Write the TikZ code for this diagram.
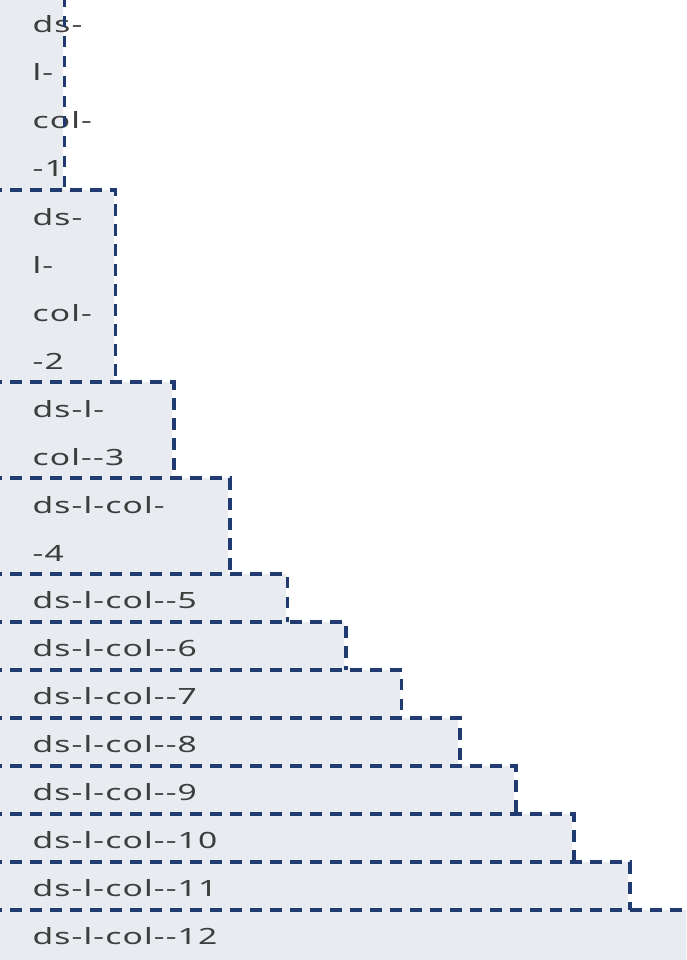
\documentclass[tikz,border=0pt]{standalone}
\usepackage{fontspec}
\setmainfont{Noto Sans}[Ligatures=TeXOff, FakeStretch=1.5, LetterSpace=5]
\definecolor{boxbg}{HTML}{E8EBF0}
\definecolor{edgeblue}{HTML}{1F3B70}
\definecolor{txt}{HTML}{3D3D3D}
\begin{document}
\begin{tikzpicture}[x=1pt,y=-1pt,
  lbl/.style={anchor=base west, inner sep=0pt, text=txt, font=\fontsize{22.4}{48}\selectfont},
  edge/.style={draw=edgeblue, line width=3.5pt, dash pattern=on 11.5pt off 8.5pt}]
\useasboundingbox (0,0) rectangle (686,960);
\clip (0,0) rectangle (686,960);
% fills
\foreach \t/\b/\r in {-10/190/64.3, 190/382/115.7, 382/478/174, 478/574/230, 574/622/287.5, 622/670/346, 670/718/401.5, 718/766/460, 766/814/516, 814/862/574, 862/910/630, 910/980/720}
  \fill[boxbg] (-10,\t) rectangle (\r-1.75,\b);
% labels
\node[lbl] (b1a) at (32.5,33) {ds-};
\node[lbl] (b1b) at (32.5,81) {l-};
\node[lbl] (b1c) at (32.5,129) {col-};
\node[lbl] (b1d) at (32.5,177) {-1};
\node[lbl] (b2a) at (32.5,225) {ds-};
\node[lbl] (b2b) at (32.5,273) {l-};
\node[lbl] (b2c) at (32.5,321) {col-};
\node[lbl] (b2d) at (32.5,369) {-2};
\node[lbl] (b3a) at (32.5,417) {ds-l-};
\node[lbl] (b3b) at (32.5,465) {col--3};
\node[lbl] (b4a) at (32.5,513) {ds-l-col-};
\node[lbl] (b4b) at (32.5,561) {-4};
\node[lbl] (b5) at (32.5,608.5) {ds-l-col--5};
\node[lbl] (b6) at (32.5,656.5) {ds-l-col--6};
\node[lbl] (b7) at (32.5,704.5) {ds-l-col--7};
\node[lbl] (b8) at (32.5,752.5) {ds-l-col--8};
\node[lbl] (b9) at (32.5,800.5) {ds-l-col--9};
\node[lbl] (b10) at (32.5,848.5) {ds-l-col--10};
\node[lbl] (b11) at (32.5,896.5) {ds-l-col--11};
\node[lbl] (b12) at (32.5,944.5) {ds-l-col--12};
% dashed outlines
\foreach \t/\b/\r in {-10/190/64.3, 190/382/115.7, 382/478/174, 478/574/230, 574/622/287.5, 622/670/346, 670/718/401.5, 718/766/460, 766/814/516, 814/862/574, 862/910/630, 910/980/720}
  \draw[edge] (-10,\t) -- (\r,\t) -- (\r,\b);
\end{tikzpicture}
\end{document}
